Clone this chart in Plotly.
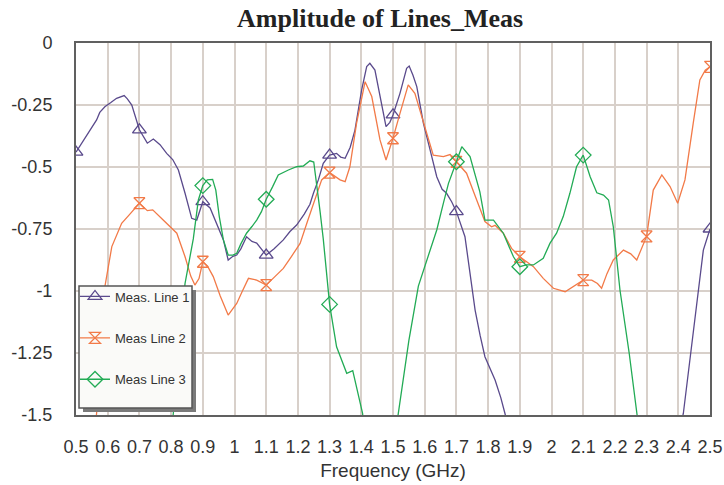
import plotly.graph_objects as go

# ---------------- data ----------------
freq_1 = [0.5, 0.52, 0.544, 0.565, 0.575, 0.591, 0.61, 0.628, 0.652, 0.662, 0.676, 0.7, 0.725, 0.744,
          0.765, 0.786, 0.805, 0.823, 0.844, 0.865, 0.881, 0.9, 0.923, 0.945, 0.965, 0.98, 0.995,
          1.007, 1.02, 1.038, 1.055, 1.07, 1.085, 1.1, 1.125, 1.154, 1.175, 1.196, 1.22, 1.238,
          1.249, 1.265, 1.28, 1.3, 1.322, 1.335, 1.349, 1.365, 1.38, 1.39, 1.401, 1.417, 1.427,
          1.443, 1.459, 1.478, 1.49, 1.5, 1.522, 1.543, 1.551, 1.563, 1.575, 1.596, 1.617, 1.638,
          1.655, 1.669, 1.685, 1.7, 1.727, 1.743, 1.759, 1.775, 1.79, 1.822, 1.84, 1.853, 1.87,
          1.9, 2.0, 2.2, 2.38, 2.416, 2.437, 2.458, 2.479, 2.5]
amp_1 = [-0.44, -0.40, -0.351, -0.31, -0.28, -0.257, -0.24, -0.223, -0.212, -0.225, -0.25, -0.35,
         -0.404, -0.387, -0.41, -0.445, -0.47, -0.512, -0.606, -0.707, -0.714, -0.64, -0.665, -0.73,
         -0.794, -0.875, -0.86, -0.855, -0.83, -0.781, -0.80, -0.807, -0.83, -0.855, -0.83, -0.794,
         -0.76, -0.734, -0.69, -0.65, -0.606, -0.55, -0.485, -0.452, -0.445, -0.46, -0.465, -0.42,
         -0.351, -0.27, -0.19, -0.095, -0.082, -0.109, -0.216, -0.337, -0.32, -0.29, -0.203,
         -0.102, -0.093, -0.13, -0.176, -0.324, -0.431, -0.539, -0.59, -0.606, -0.64, -0.68,
         -0.781, -0.92, -1.077, -1.18, -1.265, -1.359, -1.43, -1.493, -1.58, -1.7, -1.9, -1.9,
         -1.7, -1.493, -1.27, -1.036, -0.835, -0.75]

freq_2 = [0.5, 0.55, 0.565, 0.578, 0.591, 0.613, 0.644, 0.67, 0.7, 0.725, 0.742, 0.775, 0.807, 0.818,
          0.844, 0.862, 0.875, 0.888, 0.9, 0.915, 0.933, 0.955, 0.98, 0.995, 1.007, 1.025, 1.044,
          1.07, 1.1, 1.125, 1.154, 1.18, 1.207, 1.23, 1.249, 1.275, 1.3, 1.333, 1.349, 1.364, 1.385,
          1.412, 1.433, 1.459, 1.478, 1.5, 1.522, 1.548, 1.569, 1.596, 1.627, 1.659, 1.68, 1.7,
          1.732, 1.764, 1.79, 1.811, 1.822, 1.848, 1.874, 1.9, 1.92, 1.943, 1.974, 2.006, 2.043,
          2.074, 2.1, 2.127, 2.145, 2.158, 2.175, 2.195, 2.227, 2.25, 2.269, 2.3, 2.321, 2.348,
          2.374, 2.398, 2.421, 2.447, 2.468, 2.485, 2.5]
amp_2 = [-2.0, -1.7, -1.493, -1.22, -0.983, -0.821, -0.727, -0.69, -0.646, -0.676, -0.673, -0.714,
         -0.754, -0.767, -0.862, -0.94, -0.976, -0.95, -0.882, -0.90, -0.942, -1.02, -1.097, -1.07,
         -1.05, -1.0, -0.949, -0.956, -0.976, -0.945, -0.909, -0.86, -0.808, -0.72, -0.646, -0.552,
         -0.523, -0.552, -0.559, -0.499, -0.324, -0.156, -0.216, -0.391, -0.472, -0.384, -0.284,
         -0.169, -0.203, -0.324, -0.452, -0.458, -0.45, -0.479, -0.525, -0.633, -0.72, -0.741,
         -0.735, -0.767, -0.828, -0.862, -0.88, -0.902, -0.949, -0.989, -1.003, -0.976, -0.956,
         -0.956, -0.97, -0.989, -0.93, -0.875, -0.835, -0.85, -0.875, -0.78, -0.593, -0.532,
         -0.579, -0.646, -0.552, -0.324, -0.149, -0.11, -0.096]

freq_3 = [0.5, 0.78, 0.807, 0.825, 0.844, 0.87, 0.886, 0.9, 0.914, 0.931, 0.941, 0.952, 0.965, 0.98,
          0.995, 1.007, 1.02, 1.038, 1.055, 1.07, 1.085, 1.1, 1.12, 1.138, 1.17, 1.196, 1.217,
          1.238, 1.25, 1.259, 1.27, 1.28, 1.3, 1.322, 1.354, 1.373, 1.39, 1.404, 1.42, 1.5, 1.516,
          1.55, 1.58, 1.638, 1.659, 1.675, 1.7, 1.717, 1.743, 1.774, 1.79, 1.817, 1.848, 1.88, 1.9,
          1.92, 1.943, 1.974, 1.995, 2.016, 2.037, 2.058, 2.079, 2.1, 2.122, 2.143, 2.164, 2.18,
          2.195, 2.216, 2.245, 2.27, 2.3, 2.5]
amp_3 = [-1.9, -1.8, -1.493, -1.2, -0.969, -0.79, -0.633, -0.575, -0.552, -0.55, -0.593, -0.70,
         -0.794, -0.855, -0.855, -0.848, -0.81, -0.767, -0.74, -0.714, -0.68, -0.63, -0.58, -0.532,
         -0.512, -0.499, -0.496, -0.475, -0.48, -0.566, -0.68, -0.79, -1.054, -1.225, -1.332,
         -1.321, -1.42, -1.493, -1.7, -1.7, -1.5, -1.2, -0.98, -0.754, -0.646, -0.566, -0.479,
         -0.418, -0.458, -0.6, -0.714, -0.714, -0.767, -0.862, -0.902, -0.895, -0.895, -0.868,
         -0.808, -0.767, -0.70, -0.606, -0.499, -0.452, -0.539, -0.604, -0.613, -0.633, -0.741,
         -0.996, -1.25, -1.5, -1.8, -1.9]

series_names = ["Meas. Line 1", "Meas Line 2", "Meas Line 3"]
series_colors = ["#5a4a8c", "#f27a48", "#22ab55"]
series_symbols = ["triangle-up-open", "hourglass-open", "diamond-open"]
series_msize = [12, 11, 12]

marker_freqs = [0.5, 0.7, 0.9, 1.1, 1.3, 1.5, 1.7, 1.9, 2.1, 2.3, 2.5]
x_ticks = [0.5, 0.6, 0.7, 0.8, 0.9, 1.0, 1.1, 1.2, 1.3, 1.4, 1.5, 1.6, 1.7, 1.8, 1.9,
           2.0, 2.1, 2.2, 2.3, 2.4, 2.5]
x_tick_text = ["0.5", "0.6", "0.7", "0.8", "0.9", "1", "1.1", "1.2", "1.3", "1.4", "1.5",
               "1.6", "1.7", "1.8", "1.9", "2", "2.1", "2.2", "2.3", "2.4", "2.5"]
y_ticks = [0, -0.25, -0.5, -0.75, -1, -1.25, -1.5]
y_tick_text = ["0", "-0.25", "-0.5", "-0.75", "-1", "-1.25", "-1.5"]

# ---------------- figure ----------------
fig = go.Figure()
all_series = [(freq_1, amp_1), (freq_2, amp_2), (freq_3, amp_3)]
mset = {round(f, 3) for f in marker_freqs}
for i, (fx, fy) in enumerate(all_series):
    col = series_colors[i]
    fig.add_trace(go.Scatter(x=fx, y=fy, mode="lines", line=dict(color=col, width=1.3),
                             showlegend=False, hoverinfo="skip"))
    mx = [f for f, v in zip(fx, fy) if round(f, 3) in mset and v >= -1.5]
    my = [v for f, v in zip(fx, fy) if round(f, 3) in mset and v >= -1.5]
    fig.add_trace(go.Scatter(x=mx, y=my, mode="markers", showlegend=False,
                             marker=dict(symbol=series_symbols[i], size=series_msize[i],
                                         color=col, line=dict(color=col, width=1.3))))
    fig.add_trace(go.Scatter(x=[None], y=[None], mode="lines+markers", name=series_names[i],
                             legendgroup=f"g{i}",
                             line=dict(color=col, width=1.3),
                             marker=dict(symbol=series_symbols[i], size=series_msize[i],
                                         color=col, line=dict(color=col, width=1.3))))

grid_col = "#d8d0ca"
frame_col = "#606060"
tick_font = dict(family="Liberation Sans, Arial, sans-serif", size=18, color="#333333")

# plot area: 634 x 372 px ; legend box drawn as shapes (in plot-fraction coordinates)
PW, PH = 634.0, 372.0
def px_x(p):
    return (p - 76) / PW
def px_y(p):
    return (415 - p) / PH

fig.update_layout(
    width=724, height=485,
    margin=dict(l=76, r=14, t=43, b=70, autoexpand=False),
    paper_bgcolor="white", plot_bgcolor="white",
    title=dict(text="<b>Amplitude of Lines_Meas</b>", x=0.525, xref="container",
               y=1 - 18 / 485, yref="container", xanchor="center", yanchor="middle",
               font=dict(family="Liberation Serif, Times New Roman, serif", size=26,
                         color="#222222")),
    xaxis=dict(range=[0.5, 2.5], tickmode="array", tickvals=x_ticks, ticktext=x_tick_text,
               showgrid=True, gridcolor=grid_col, gridwidth=2, zeroline=False,
               showline=True, linecolor=frame_col, linewidth=2, mirror=True, automargin=False,
               ticks="", ticklabelstandoff=14, tickfont=tick_font,
               title=dict(text="Frequency (GHz)", standoff=8,
                          font=dict(family="Liberation Sans, Arial, sans-serif", size=19,
                                    color="#333333"))),
    yaxis=dict(range=[-1.5, 0], tickmode="array", tickvals=y_ticks, ticktext=y_tick_text,
               showgrid=True, gridcolor=grid_col, gridwidth=2, zeroline=False,
               showline=True, linecolor=frame_col, linewidth=2, mirror=True, automargin=False,
               ticks="", ticklabelstandoff=18, tickfont=tick_font),
    legend=dict(x=px_x(75), y=px_y(281.5), xanchor="left", yanchor="top",
                bgcolor="rgba(0,0,0,0)", borderwidth=0,
                font=dict(family="Liberation Sans, Arial, sans-serif", size=13, color="#333333"),
                tracegroupgap=21.5, itemwidth=30),
    showlegend=True,
    shapes=[
        dict(type="rect", xref="paper", yref="paper", layer="above",
             x0=px_x(83), x1=px_x(196), y0=px_y(412), y1=px_y(290),
             fillcolor="#7a7a7a", line=dict(width=0)),
        dict(type="rect", xref="paper", yref="paper", layer="above",
             x0=px_x(79), x1=px_x(192), y0=px_y(408), y1=px_y(286),
             fillcolor="#fafaf8", line=dict(color="#555555", width=1.5)),
    ],
)

fig.write_html("out.html")
